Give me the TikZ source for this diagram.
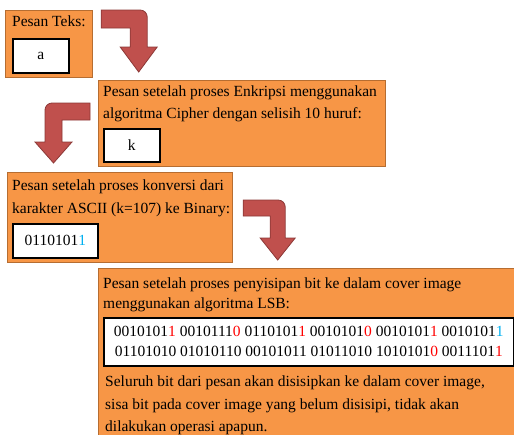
\documentclass[tikz,border=0pt]{standalone}
\usepackage{xcolor}
\usepackage{fontspec}
\setmainfont{Liberation Serif}
\usetikzlibrary{positioning}
\definecolor{panelfill}{HTML}{F79646}
\definecolor{paneldraw}{HTML}{B66D31}
\definecolor{arrowfill}{HTML}{C0504D}
\definecolor{arrowdraw}{HTML}{8C3836}
\definecolor{lsbred}{HTML}{FF0000}
\definecolor{lsbblue}{HTML}{00B0F0}
\tikzstyle{panel} = [rectangle, 
anchor=north west, 
inner sep=0pt, 
draw=paneldraw, 
line width=1.2pt, 
fill=panelfill]
\tikzstyle{valuebox} = [rectangle, 
anchor=north west, 
inner sep=0pt, 
align=center, 
draw=black, 
line width=1.6pt, 
fill=white, 
font=\fontsize{15.5}{20}\selectfont]
% base anchor of a multi-line caption sits on its last line
\tikzstyle{caption} = [anchor=base west, 
inner sep=0pt, 
align=left, 
font=\fontsize{15.5}{22}\selectfont]
\tikzstyle{turnarrow} = [fill=arrowfill, draw=arrowdraw, line width=0.8pt]
% bent block arrow: #1 extra options, #2 origin, #3 bar length, #4 shaft width,
% #5 bar thickness, #6 head base depth, #7 tip depth
\newcommand{\turnarrow}[7]{%
\draw [turnarrow, shift={#2}, #1] (0,0) -- ({#3-7},0)
  arc[start angle=90, end angle=0, radius=7] -- (#3,-#6) -- ({#3+10},-#6)
  -- ({#3-#4/2},-#7) -- ({#3-#4-10},-#6) -- ({#3-#4},-#6) -- ({#3-#4},-#5)
  -- (0,-#5) -- cycle;}
\newcommand{\lsb}[2]{\textcolor{#1}{#2}}

\begin{document}
\begin{tikzpicture}[x=1pt,y=1pt]
\clip (0,0) rectangle (514,-434);

\node (teks) [panel, minimum width=87pt, minimum height=67pt] at (5,-10) {};
\node (teks_label) [caption] at ([xshift=7pt,yshift=-16pt]teks.north west) {Pesan Teks:};
\node (teks_isi) [valuebox, minimum width=56pt, minimum height=34pt] at ([xshift=7pt,yshift=-28pt]teks.north west) {a};

\node (enkripsi) [panel, minimum width=287pt, minimum height=86pt] at (98,-80) {};
\node (enkripsi_label) [caption] at ([xshift=5pt,yshift=-38pt]enkripsi.north west) {Pesan setelah proses Enkripsi menggunakan\\algoritma Cipher dengan selisih 10 huruf:};
\node (enkripsi_isi) [valuebox, minimum width=56pt, minimum height=33pt] at ([xshift=5pt,yshift=-48pt]enkripsi.north west) {k};

\node (biner) [panel, minimum width=225pt, minimum height=90pt] at (7,-172) {};
\node (biner_label) [caption, font=\fontsize{15.5}{23}\selectfont] at ([xshift=5pt,yshift=-41pt]biner.north west) {Pesan setelah proses konversi dari\\karakter ASCII (k=107) ke Binary:};
\node (biner_isi) [valuebox, minimum width=85pt, minimum height=34pt] at ([xshift=5pt,yshift=-51pt]biner.north west) {0110101\lsb{lsbblue}{1}};

\node (lsb) [panel, minimum width=425pt, minimum height=175pt] at (98,-268) {};
\node (lsb_label) [caption, font=\fontsize{15.5}{20.5}\selectfont] at ([xshift=5pt,yshift=-40.5pt]lsb.north west) {Pesan setelah proses penyisipan bit ke dalam cover image\\menggunakan algoritma LSB:};
\node (lsb_isi) [valuebox, minimum width=410pt, minimum height=48pt] at ([xshift=5pt,yshift=-49pt]lsb.north west) {0010101\lsb{lsbred}{1} 0010111\lsb{lsbred}{0} 0110101\lsb{lsbred}{1} 0010101\lsb{lsbred}{0} 0010101\lsb{lsbred}{1} 0010101\lsb{lsbblue}{1}\\01101010 01010110 00101011 01011010 1010101\lsb{lsbred}{0} 0011101\lsb{lsbred}{1}};
\node (lsb_note) [caption, font=\fontsize{15.5}{22.5}\selectfont] at ([xshift=7pt,yshift=-163.7pt]lsb.north west) {Seluruh bit dari pesan akan disisipkan ke dalam cover image,\\sisa bit pada cover image yang belum disisipi, tidak akan\\dilakukan operasi apapun.};

% block arrows between the panels
\turnarrow{}{([xshift=8pt]teks.north east)}{46}{17}{18}{37}{62}
\turnarrow{xscale=-1}{([xshift=-8pt,yshift=-23pt]enkripsi.north west)}{45}{17}{17}{39}{60}
\turnarrow{}{([xshift=10pt,yshift=-28pt]biner.north east)}{42}{15}{16}{38}{60}

\end{tikzpicture}
\end{document}
